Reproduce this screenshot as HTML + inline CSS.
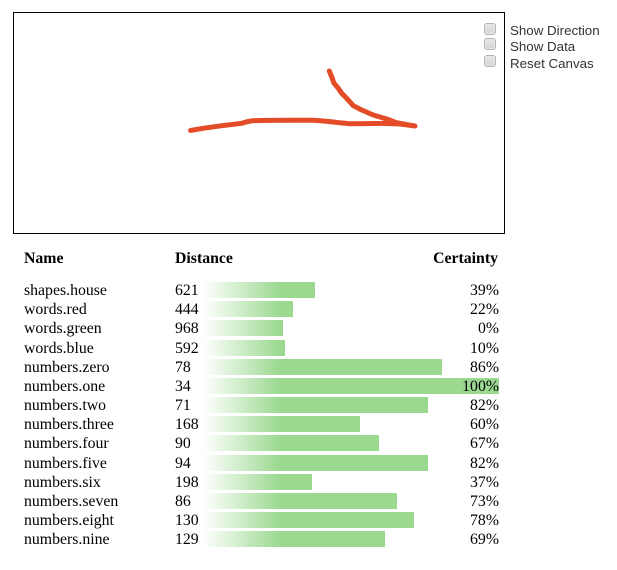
<!DOCTYPE html>
<html>
<head>
<meta charset="utf-8">
<style>
html,body{margin:0;padding:0;background:#fff;}
body{width:617px;height:570px;position:relative;overflow:hidden;font-family:"Liberation Serif",serif;color:#000;}
#canvas{position:absolute;left:13px;top:12px;width:490px;height:220px;border:1px solid #000;}
#ink{position:absolute;left:0;top:0;}
.cb{position:absolute;left:484px;width:10px;height:10px;border:1px solid #b4b4b4;border-radius:3px;background:linear-gradient(#e8e8e8,#d4d4d4);box-shadow:inset 0 0 0 1px #e6e6e6;}
.lbl{position:absolute;left:510px;font:13.33px/16px "Liberation Sans",sans-serif;color:#333;white-space:nowrap;}
.t{position:absolute;font-size:15.8px;line-height:17px;white-space:nowrap;}
.b{font-weight:bold;}
.bar{position:absolute;left:203px;height:16px;background:linear-gradient(90deg,#fff 0,#9bd990 77px,#9bd990 100%);}
</style>
</head>
<body>
<div id="canvas"></div>
<svg id="ink" width="617" height="570">
<polyline fill="none" stroke="#e34c26" stroke-width="5" stroke-linecap="round" stroke-linejoin="round"
points="190.5,130.5 203,128.3 221,125.8 241.5,123.3 246,122 251.5,120.8 260,120.5 270,120.4 290,120.3 313,120.2 322,120.9 330,121.6 340,122.8 350,123.7 365,123.6 383,123.4 400,124 415,126 406,124.4 396.7,122.7 386.7,119 373.3,115 361.7,110 353.3,105.7 346.7,98.3 341.7,93.3 338.3,88.3 333.8,83 332.3,78.3 329.3,71"/>
</svg>

<div class="cb" style="top:23px"></div>
<div class="cb" style="top:38px"></div>
<div class="cb" style="top:55px"></div>
<div class="lbl" style="top:23px">Show Direction</div>
<div class="lbl" style="top:39px">Show Data</div>
<div class="lbl" style="top:56px">Reset Canvas</div>

<div class="t b" style="left:24px;top:250px">Name</div>
<div class="t b" style="left:175px;top:250px">Distance</div>
<div class="t b" style="right:119px;top:250px">Certainty</div>
<div id="rows"></div>

<script>
const names = ["shapes.house","words.red","words.green","words.blue","numbers.zero","numbers.one","numbers.two","numbers.three","numbers.four","numbers.five","numbers.six","numbers.seven","numbers.eight","numbers.nine"];
const distances = [621,444,968,592,78,34,71,168,90,94,198,86,130,129];
const certainties = [39,22,0,10,86,100,82,60,67,82,37,73,78,69];

function barWidth(c){ return 80 + 216 * Math.pow(c / 100, 2.02); }
function rowTop(i){ return 282 + i * 19.17; }

const host = document.getElementById('rows');
names.forEach(function(name, i){
  const top = Math.round(rowTop(i));

  const bar = document.createElement('div');
  bar.className = 'bar';
  
  
  bar.style.top = top + 'px';
  bar.style.width = barWidth(certainties[i]) + 'px';
  host.appendChild(bar);

  const n = document.createElement('div');
  n.className = 't';
  
  
  n.style.left = '24px';
  n.style.top = top + 'px';
  n.textContent = name;
  host.appendChild(n);

  const d = document.createElement('div');
  d.className = 't';
  
  
  d.style.left = '175px';
  d.style.top = top + 'px';
  d.textContent = distances[i];
  host.appendChild(d);

  const c = document.createElement('div');
  c.className = 't';
  
  
  c.style.right = '118px';
  c.style.top = top + 'px';
  c.textContent = certainties[i] + '%';
  host.appendChild(c);
});
</script>
</body>
</html>
